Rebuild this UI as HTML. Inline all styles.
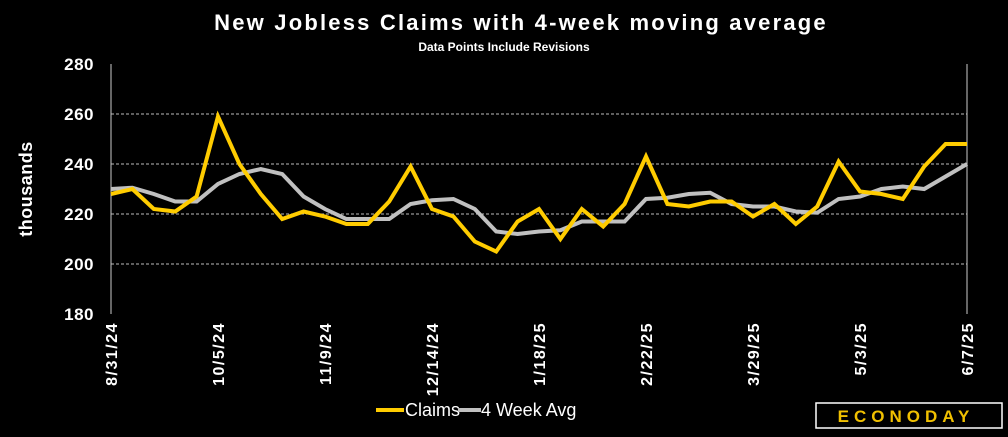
<!DOCTYPE html>
<html><head><meta charset="utf-8"><style>
html,body{margin:0;padding:0;background:#000;}
svg text{font-family:"Liberation Sans",sans-serif;}
</style></head><body>
<svg width="1008" height="432" xmlns="http://www.w3.org/2000/svg">
<rect width="1008" height="432" fill="#000"/>
<text x="521" y="30" fill="#fff" font-size="22" font-weight="bold" text-anchor="middle" letter-spacing="2.2">New Jobless Claims with 4-week moving average</text>
<text x="504" y="51" fill="#fff" font-size="12" font-weight="bold" text-anchor="middle">Data Points Include Revisions</text>
<text transform="translate(32,189) rotate(-90)" fill="#fff" font-size="18" font-weight="bold" text-anchor="middle" letter-spacing="0.5">thousands</text>
<g id="grid"></g><g id="ylabels"></g><g id="xlabels"></g><g id="series"></g>
<g>
<line x1="376" y1="410" x2="404" y2="410" stroke="#ffcc00" stroke-width="4"/>
<text x="405" y="416" fill="#fff" font-size="18">Claims</text>
<line x1="458" y1="410" x2="481" y2="410" stroke="#c0c0c0" stroke-width="4"/>
<text x="481" y="416" fill="#fff" font-size="18">4 Week Avg</text>
</g>
<g>
<rect x="816" y="403" width="186" height="25" fill="none" stroke="#fff" stroke-width="1.5"/>
<text x="906" y="422" fill="#f0c000" font-size="17" font-weight="bold" text-anchor="middle" letter-spacing="5">ECONODAY</text>
</g>
</svg>
<script>
const claims=[228,230,222,221,227,259,240,228,218,221,219,216,216,225,239,222,219,209,205,217,222,210,222,215,224,243,224,223,225,225,219,224,216,223,241,229,228,226,239,248,248];
const avg=[230,230.5,228,225,225,232,236,238,236,227,222,218,218,218,224,225.5,226,222,213,212,213,213.5,217,217,217,226,226.5,228,228.5,224,223,223,221,220.5,226,227,230,231,230,235,240];
const xLabels=["8/31/24","10/5/24","11/9/24","12/14/24","1/18/25","2/22/25","3/29/25","5/3/25","6/7/25"];
const yTicks=[180,200,220,240,260,280];
const NS="http://www.w3.org/2000/svg";
const x0=111,x1=967,y0=314,y1=64;
const xs=i=>x0+i*(x1-x0)/(claims.length-1);
const ys=v=>y0-(v-180)/100*(y0-y1);
function mk(t,a,p){const e=document.createElementNS(NS,t);for(const k in a)e.setAttribute(k,a[k]);p.appendChild(e);return e;}
const grid=document.getElementById('grid');
yTicks.forEach(v=>{
  if(v>180&&v<280){const l=mk('line',{x1:x0,x2:x1,y1:ys(v),y2:ys(v),stroke:'#bbb','stroke-width':1,'stroke-dasharray':'3,2'},grid);
  
  }
  const t=mk('text',{x:94,y:ys(v)+6,fill:'#fff','font-size':17,'font-weight':'bold','text-anchor':'end','letter-spacing':0.5},document.getElementById('ylabels'));
  t.textContent=v;
  
  
});
const ax=mk('line',{x1:x0,x2:x0,y1:y1,y2:y0,stroke:'#ccc','stroke-width':1},grid);


const ax2=mk('line',{x1:x1,x2:x1,y1:y1,y2:y0,stroke:'#ccc','stroke-width':1},grid);


xLabels.forEach((s,k)=>{
  const x=xs(k*5);
  const t=mk('text',{transform:`translate(${x+6},322) rotate(-90)`,fill:'#fff','font-size':16,'font-weight':'bold','text-anchor':'end','letter-spacing':1.5},document.getElementById('xlabels'));
  t.textContent=s;
  
  
});
function line(arr,col,name){
  const p=mk('polyline',{points:arr.map((v,i)=>xs(i)+','+ys(v)).join(' '),fill:'none',stroke:col,'stroke-width':4,'stroke-linejoin':'miter'},document.getElementById('series'));
  
  
}
line(avg,'#c0c0c0','avg-line');
line(claims,'#ffcc00','claims-line');
</script>
</body></html>
